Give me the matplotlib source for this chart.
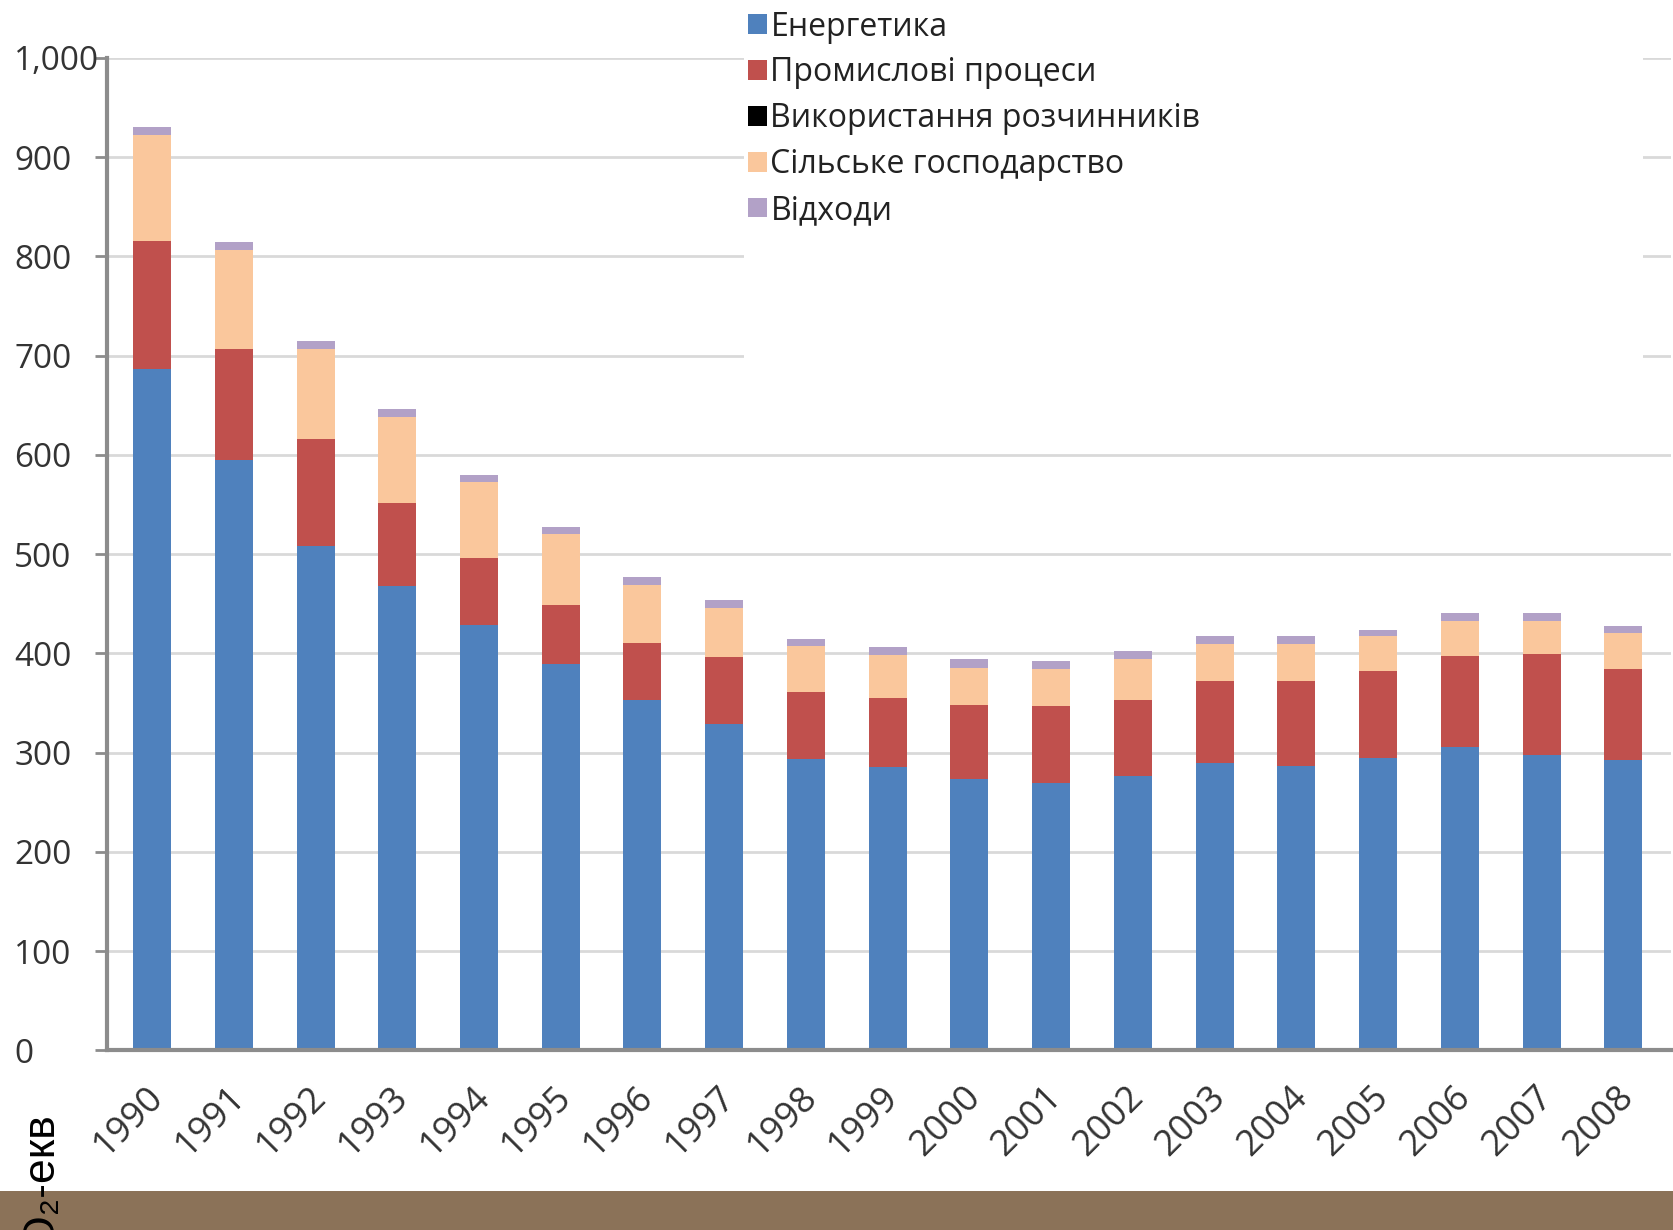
import matplotlib
matplotlib.use("Agg")
import matplotlib.pyplot as plt
from matplotlib.patches import Rectangle
import matplotlib.transforms as mtransforms
import numpy as np

years = ["1990", "1991", "1992", "1993", "1994", "1995", "1996", "1997", "1998", "1999",
         "2000", "2001", "2002", "2003", "2004", "2005", "2006", "2007", "2008"]
energy = [686, 595, 508, 468, 429, 389, 353, 329, 294, 286, 273, 269, 276, 290, 287, 295, 306, 298, 293]
industry = [129, 112, 108, 83, 67, 60, 57, 67, 67, 69, 75, 78, 77, 82, 85, 87, 91, 101, 91]
solvents = [0.05] * 19
agriculture = [107, 99, 91, 87, 77, 71, 59, 50, 46, 43, 37, 37, 41, 37, 37, 35, 36, 34, 36]
waste = [8, 8, 8, 8, 7, 7, 8, 8, 7, 8, 9, 8, 8, 8, 8, 7, 8, 8, 8]

series_names = ["Енергетика", "Промислові процеси", "Використання розчинників",
                "Сільське господарство", "Відходи"]
colors = ["#4F81BD", "#C0504D", "#000000", "#FAC79C", "#B2A1C7"]
yticks = [0, 100, 200, 300, 400, 500, 600, 700, 800, 900, 1000]
ytick_labels = ["0", "100", "200", "300", "400", "500", "600", "700", "800", "900", "1,000"]

plt.rcParams['font.family'] = ['Open Sans', 'DejaVu Sans']

fig = plt.figure(figsize=(16.74, 12.30), dpi=100)
ax = fig.add_axes([0.064, 0.146, 0.934, 0.807])

x = np.arange(len(years))
width = 0.465
bottom = np.zeros(len(years))
data = [energy, industry, solvents, agriculture, waste]
handles = []
for vals, c, name in zip(data, colors, series_names):
    b = ax.bar(x, vals, width, bottom=bottom, color=c, label=name, zorder=2,
               linewidth=0)
    handles.append(b)
    bottom += np.array(vals)

ax.set_xlim(-0.55, 18.58)
ax.set_ylim(0, 1000)
ax.set_yticks(yticks)
ax.set_yticklabels(ytick_labels)
ax.set_xticks(x)
ax.set_xticklabels(years, rotation=45, ha='right', va='top', rotation_mode='anchor')
ax.tick_params(axis='x', length=0, pad=21, labelsize=26, labelcolor='#333333')
ax.tick_params(axis='y', length=9, width=2, color='#8c8c8c', pad=58, labelsize=24,
               labelcolor='#333333')
offset = mtransforms.ScaledTranslation(-0.07, 0, fig.dpi_scale_trans)
for lbl in ax.get_xticklabels():
    lbl.set_transform(lbl.get_transform() + offset)
for lbl in ax.get_yticklabels():
    lbl.set_horizontalalignment('left')
ax.set_axisbelow(True)
ax.yaxis.grid(True, color='#d9d9d9', linewidth=2)
for s in ['top', 'right']:
    ax.spines[s].set_visible(False)
for s in ['left', 'bottom']:
    ax.spines[s].set_color('#8c8c8c')
    ax.spines[s].set_linewidth(3)
ax.spines['left'].set_bounds(0, 1000)

# white legend area covering gridlines
ax.add_patch(Rectangle((7.246, 692), 11.0, 400, facecolor='white', edgecolor='none',
                       zorder=1, clip_on=False))

leg = fig.legend(handles, series_names, loc='upper left', bbox_to_anchor=(0.4335, 1.0095),
                 frameon=False, fontsize=23, handlelength=0.58, handleheight=0.58,
                 handletextpad=0.12, labelspacing=0.40, borderpad=0.2)
for t in leg.get_texts():
    t.set_color('#222222')

# brown footer band
fig.patches.append(Rectangle((0, 0), 1, 0.032, transform=fig.transFigure,
                             facecolor='#8B7258', edgecolor='none', zorder=0))

fig.text(0.0245, 0.096, "CO\u2082-екв", rotation=90, ha='center', va='top',
         fontsize=32, family=['Liberation Sans', 'DejaVu Sans'], color='black', zorder=5)

fig.savefig("out.png", dpi=100, facecolor='white')
